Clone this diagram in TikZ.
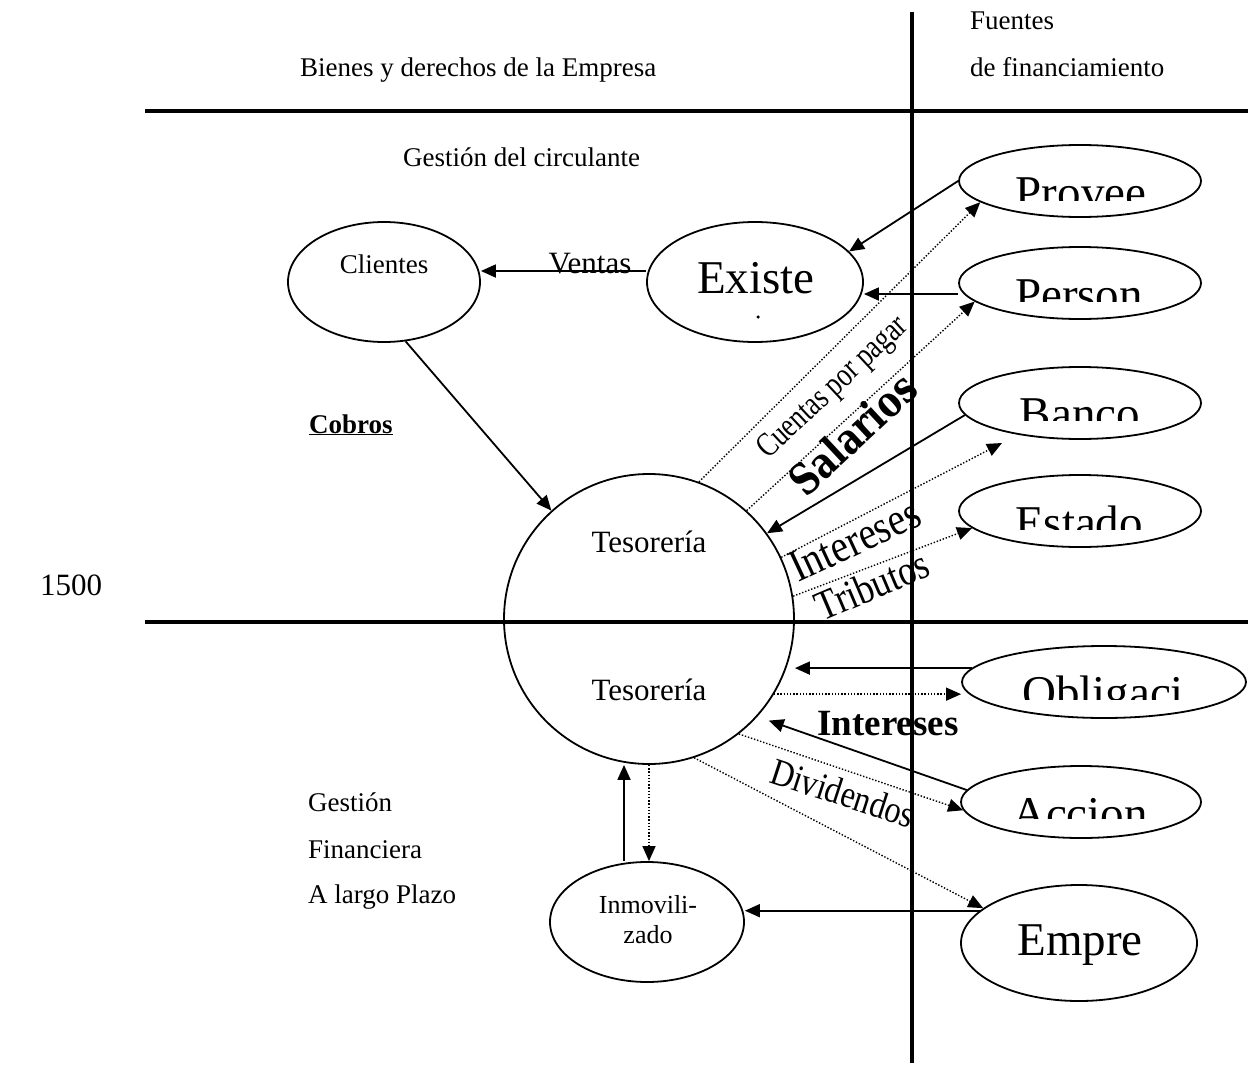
\documentclass[tikz,border=0pt]{standalone}
\usepackage{fontspec}
\setmainfont{Liberation Serif}
\newfontfamily\salfont[FakeStretch=0.8]{DejaVu Serif}
\newfontfamily\condA[FakeStretch=0.78]{Liberation Serif}
\newfontfamily\condB[FakeStretch=0.85]{Liberation Serif}
\usetikzlibrary{shapes.geometric,arrows.meta,calc}
\newcommand\fsz[1]{\fontsize{#1}{#1}\selectfont}
\begin{document}
\begin{tikzpicture}[x=1pt,y=-1pt,
  ell/.style={draw, ellipse, line width=1.8pt, inner sep=0pt},
  thickline/.style={line width=4.5pt},
  sarr/.style={line width=1.8pt,-{Triangle[length=15pt,width=13pt]}},
  darr/.style={line width=1.4pt,dash pattern=on 1.4pt off 1.8pt,-{Triangle[length=15pt,width=13pt]}},
  txt/.style={inner sep=0pt, font=\fsz{27}},
  big/.style={inner sep=0pt, font=\fsz{47}, anchor=base},
]
\useasboundingbox (0,0) rectangle (1248,1065);

% headers
\node[txt, anchor=base west] (bien) at (300,77) {Bienes y derechos de la Empresa};
\node[txt, anchor=base west] (fue1) at (970,30) {Fuentes};
\node[txt, anchor=base west] (fue2) at (970,77) {de financiamiento};
\node[txt, anchor=base west] (gcirc) at (403,166) {Gestión del circulante};
\node[txt, anchor=base west] (cob) at (309,433) {\underline{\textbf{Cobros}}};
\node[txt, font=\fsz{31}, anchor=base west] (num) at (40,595) {1500};
\node[txt, anchor=base west] (gf1) at (308,811) {Gestión};
\node[txt, anchor=base west] (gf2) at (308,858) {Financiera};
\node[txt, anchor=base west] (gf3) at (308,903) {A largo Plazo};

% ellipses
\node[ell, minimum width=192pt, minimum height=120pt] (cli) at (384,282) {};
\node[ell, minimum width=216pt, minimum height=120pt] (exi) at (755,282) {};
\node[ell, minimum width=242pt, minimum height=72pt] (prov) at (1080,181) {};
\node[ell, minimum width=242pt, minimum height=72pt] (per) at (1080,283) {};
\node[ell, minimum width=242pt, minimum height=72pt] (ban) at (1080,403) {};
\node[ell, minimum width=242pt, minimum height=72pt] (est) at (1080,511) {};
\node[ell, minimum width=284pt, minimum height=72pt] (obl) at (1104,682) {};
\node[ell, minimum width=240pt, minimum height=72pt] (acc) at (1081,802) {};
\node[ell, minimum width=236pt, minimum height=116pt] (emp) at (1079,943) {};
\node[ell, minimum width=194pt, minimum height=120pt] (inm) at (647,922) {};
\node[draw, circle, line width=1.8pt, inner sep=0pt, minimum size=290pt] (tes) at (649,619) {};

% texts in shapes
\node[txt, anchor=base] (clit) at (384,273) {Clientes};
\node[big] (exit) at (756,293) {Existe};
\node[circle, fill, inner sep=0pt, minimum size=3.5pt] (exdot) at (758,317) {};
\begin{scope}\clip (950,140) rectangle (1210,200);
\node[big] (provt) at (1081,208) {Provee};\end{scope}
\begin{scope}\clip (950,240) rectangle (1210,301);
\node[big] (pert) at (1079,310) {Person};\end{scope}
\begin{scope}\clip (950,360) rectangle (1210,420);
\node[big] (bant) at (1080,429) {Banco};\end{scope}
\begin{scope}\clip (950,470) rectangle (1210,529);
\node[big] (estt) at (1079,538) {Estado};\end{scope}
\begin{scope}\clip (950,640) rectangle (1248,699);
\node[big] (oblt) at (1103,708) {Obligaci};\end{scope}
\begin{scope}\clip (950,760) rectangle (1210,818);
\node[big] (acct) at (1080,829) {Accion};\end{scope}
\node[big] (empt) at (1080,955) {Empre};
\node[txt, font=\fsz{31}, anchor=base] (tes1) at (649,552) {Tesorería};
\node[txt, font=\fsz{31}, anchor=base] (tes2) at (649,700) {Tesorería};
\node[txt, font=\fsz{26}, anchor=base] (inm1) at (648,913) {Inmovili-};
\node[txt, font=\fsz{26}, anchor=base] (inm2) at (648,943) {zado};

% labels
\node[txt, font=\fsz{31}, anchor=base] (vent) at (590,273) {Ventas};
\node[txt, font=\condA\fsz{34}, rotate=43, anchor=base west] (cpp) at (768,460) {Cuentas por pagar};
\node[txt, font=\salfont\bfseries\fsz{43}, rotate=43, anchor=base west] (sal) at (806,499) {Salarios};
\node[txt, font=\condB\fsz{46}, rotate=25, anchor=base west] (int1) at (798,583) {Intereses};
\node[txt, font=\condB\fsz{42}, rotate=23, anchor=base west] (trib) at (822,622) {Tributos};
\node[txt, font=\condB\fsz{38}, rotate=-18, anchor=base west] (divi) at (768,782) {Dividendos};
\node[txt, font=\bfseries\fsz{37}, anchor=base] (int2) at (888,735) {Intereses};

% connectors
\draw[sarr] ([yshift=11pt]exi.west) -- ([yshift=11pt]exi.west -| cli.east);
\draw[sarr] (cli.290) -- (tes.132);
\draw[sarr] (prov.west) -- (exi.18);
\draw[darr] (tes.70) -- (prov.192);
\draw[sarr] ([yshift=-11pt]per.west) -- ([yshift=-11pt]per.west -| exi.east);
\draw[darr] (tes.48) -- (per.190);
\draw[sarr] (ban.186) -- (tes.36);
\coordinate (banT) at (1002,443);
\draw[darr] (tes.25) -- (banT);
\draw[darr] (tes.9) -- (est.189);
\draw[sarr] (obl.174) -- (obl.174 -| tes.east);
\draw[darr] (tes.-31) -- (tes.-31 -| obl.west);
\draw[sarr, shorten >=12pt] (acc.174) -- (tes.-42);
\draw[darr] (tes.-52) -- (acc.184);
\draw[darr] (tes.-72) -- (emp.160);
\draw[sarr] (emp.162) -- (emp.162 -| inm.east);
\draw[sarr] ([xshift=-23pt]inm.north) -- ([xshift=-23pt]inm.north |- tes.south);
\draw[darr] (tes.south) -- (tes.south |- inm.north);

% dividing lines
\draw[thickline] (145,111) -- (1248,111);
\draw[thickline] (145,622) -- (1248,622);
\draw[thickline] (912,12) -- (912,1063);
\end{tikzpicture}
\end{document}
